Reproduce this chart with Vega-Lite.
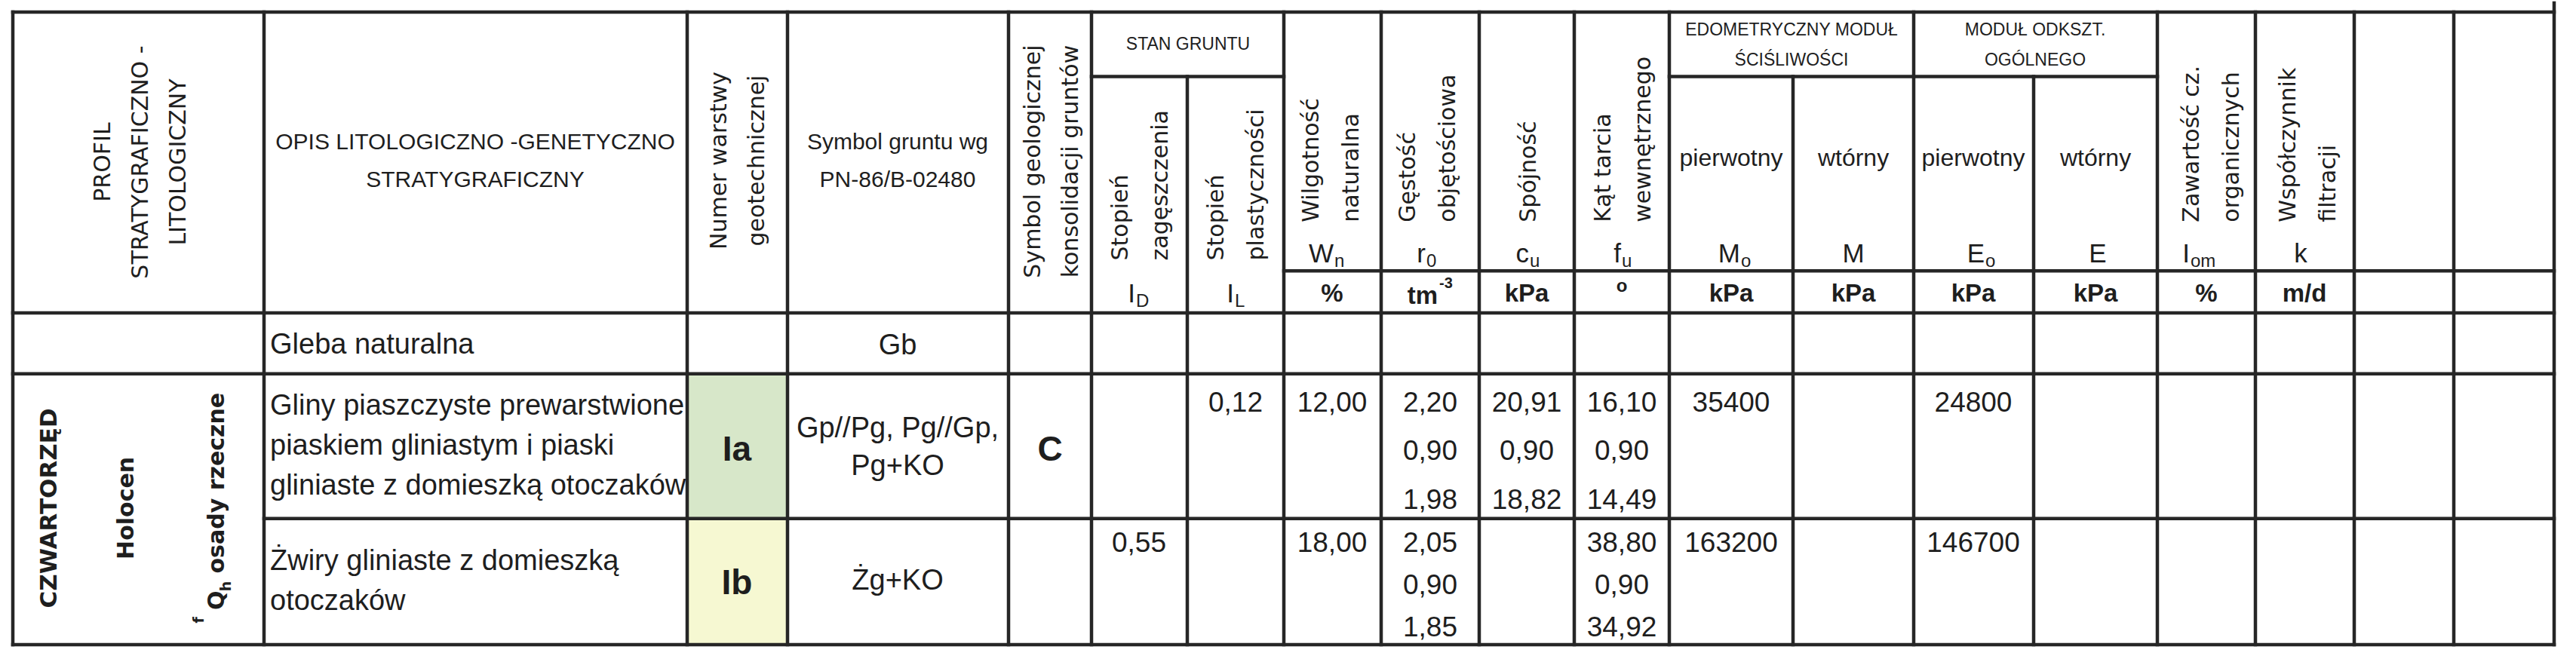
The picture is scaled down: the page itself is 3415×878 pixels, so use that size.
{
  "$schema": "https://vega.github.io/schema/vega-lite/v6.json",
  "width": 3415,
  "height": 878,
  "autosize": {"type": "fit", "contains": "padding"},
  "padding": 0,
  "background": "#ffffff",
  "config": {"view": {"stroke": null}},
  "datasets": {
    "fills": [
      {"layer": "Ia", "x": 911, "x2": 1044, "y": 494, "y2": 687},
      {"layer": "Ib", "x": 911, "x2": 1044, "y": 687, "y2": 855}
    ],
    "lines": [
      {"x": 17, "x2": 3386, "y": 12, "y2": 12},
      {"x": 1447, "x2": 1702, "y": 98, "y2": 98},
      {"x": 2213, "x2": 2860, "y": 98, "y2": 98},
      {"x": 1702, "x2": 3386, "y": 357, "y2": 357},
      {"x": 17, "x2": 3386, "y": 413, "y2": 413},
      {"x": 17, "x2": 3386, "y": 494, "y2": 494},
      {"x": 350, "x2": 3386, "y": 687, "y2": 687},
      {"x": 17, "x2": 3386, "y": 855, "y2": 855},
      {"x": 17, "x2": 17, "y": 12, "y2": 855},
      {"x": 350, "x2": 350, "y": 12, "y2": 855},
      {"x": 911, "x2": 911, "y": 12, "y2": 855},
      {"x": 1044, "x2": 1044, "y": 12, "y2": 855},
      {"x": 1337, "x2": 1337, "y": 12, "y2": 855},
      {"x": 1447, "x2": 1447, "y": 12, "y2": 855},
      {"x": 1574, "x2": 1574, "y": 98, "y2": 855},
      {"x": 1702, "x2": 1702, "y": 12, "y2": 855},
      {"x": 1831, "x2": 1831, "y": 12, "y2": 855},
      {"x": 1961, "x2": 1961, "y": 12, "y2": 855},
      {"x": 2087, "x2": 2087, "y": 12, "y2": 855},
      {"x": 2213, "x2": 2213, "y": 12, "y2": 855},
      {"x": 2377, "x2": 2377, "y": 98, "y2": 855},
      {"x": 2537, "x2": 2537, "y": 12, "y2": 855},
      {"x": 2696, "x2": 2696, "y": 98, "y2": 855},
      {"x": 2860, "x2": 2860, "y": 12, "y2": 855},
      {"x": 2990, "x2": 2990, "y": 12, "y2": 855},
      {"x": 3121, "x2": 3121, "y": 12, "y2": 855},
      {"x": 3253, "x2": 3253, "y": 12, "y2": 855},
      {"x": 3386, "x2": 3386, "y": 0, "y2": 855}
    ],
    "texts": [
      {"role": "title", "text": "OPIS LITOLOGICZNO -GENETYCZNO\nSTRATYGRAFICZNY", "x": 630, "y": 186},
      {"role": "title", "text": "Symbol gruntu wg\nPN-86/B-02480", "x": 1190, "y": 186},
      {"role": "group", "text": "STAN GRUNTU", "x": 1575, "y": 55},
      {"role": "group", "text": "EDOMETRYCZNY MODUŁ\nŚCIŚLIWOŚCI", "x": 2375, "y": 36},
      {"role": "group", "text": "MODUŁ ODKSZT.\nOGÓLNEGO", "x": 2698, "y": 36},
      {"role": "sub", "text": "pierwotny", "x": 2295, "y": 207},
      {"role": "sub", "text": "wtórny", "x": 2457, "y": 207},
      {"role": "sub", "text": "pierwotny", "x": 2616, "y": 207},
      {"role": "sub", "text": "wtórny", "x": 2778, "y": 207},
      {"role": "sym", "text": "I", "x": 1505, "y": 388},
      {"role": "symsub", "text": "D", "x": 1505, "y": 388},
      {"role": "sym", "text": "I", "x": 1636, "y": 388},
      {"role": "symsub", "text": "L", "x": 1636, "y": 388},
      {"role": "sym", "text": "W", "x": 1768, "y": 335},
      {"role": "symsub", "text": "n", "x": 1768, "y": 335},
      {"role": "sym", "text": "r", "x": 1890, "y": 335},
      {"role": "symsub", "text": "0", "x": 1890, "y": 335},
      {"role": "sym", "text": "c", "x": 2027, "y": 335},
      {"role": "symsub", "text": "u", "x": 2027, "y": 335},
      {"role": "sym", "text": "f", "x": 2149, "y": 335},
      {"role": "symsub", "text": "u", "x": 2149, "y": 335},
      {"role": "sym", "text": "M", "x": 2307, "y": 335},
      {"role": "symsub", "text": "o", "x": 2307, "y": 335},
      {"role": "symc", "text": "M", "x": 2457, "y": 335},
      {"role": "sym", "text": "E", "x": 2631, "y": 335},
      {"role": "symsub", "text": "o", "x": 2631, "y": 335},
      {"role": "symc", "text": "E", "x": 2781, "y": 335},
      {"role": "sym", "text": "I", "x": 2903, "y": 335},
      {"role": "symsub", "text": "om", "x": 2903, "y": 335},
      {"role": "symc", "text": "k", "x": 3050, "y": 335},
      {"role": "unit", "text": "%", "x": 1766, "y": 388},
      {"role": "unitr", "text": "tm", "x": 1906, "y": 391},
      {"role": "unitsup", "text": "-3", "x": 1908, "y": 374},
      {"role": "unit", "text": "kPa", "x": 2024, "y": 388},
      {"role": "unitdeg", "text": "o", "x": 2150, "y": 378},
      {"role": "unit", "text": "kPa", "x": 2295, "y": 388},
      {"role": "unit", "text": "kPa", "x": 2457, "y": 388},
      {"role": "unit", "text": "kPa", "x": 2616, "y": 388},
      {"role": "unit", "text": "kPa", "x": 2778, "y": 388},
      {"role": "unit", "text": "%", "x": 2925, "y": 388},
      {"role": "unit", "text": "m/d", "x": 3055, "y": 388},
      {"role": "rot", "text": "PROFIL\nSTRATYGRAFICZNO -\nLITOLOGICZNY", "x": 137, "y": 212},
      {"role": "rot", "text": "Numer warstwy\ngeotechnicznej", "x": 954, "y": 210},
      {"role": "rot", "text": "Symbol geologicznej\nkonsolidacji gruntów", "x": 1370, "y": 211},
      {"role": "rotl", "text": "Stopień\nzagęszczenia", "x": 1486, "y": 343},
      {"role": "rotl", "text": "Stopień\nplastyczności", "x": 1613, "y": 343},
      {"role": "rotl", "text": "Wilgotność\nnaturalna", "x": 1739, "y": 292},
      {"role": "rotl", "text": "Gęstość\nobjętościowa", "x": 1867, "y": 292},
      {"role": "rotl", "text": "Spójność", "x": 2027, "y": 292},
      {"role": "rotl", "text": "Kąt tarcia\nwewnętrznego", "x": 2126, "y": 292},
      {"role": "rotl", "text": "Zawartość cz.\norganicznych", "x": 2906, "y": 292},
      {"role": "rotl", "text": "Współczynnik\nfiltracji", "x": 3034, "y": 292},
      {"role": "body", "text": "Gleba naturalna", "x": 358, "y": 456},
      {"role": "body", "text": "Gliny piaszczyste prewarstwione\npiaskiem gliniastym i piaski\ngliniaste z domieszką otoczaków", "x": 358, "y": 537},
      {"role": "body", "text": "Żwiry gliniaste z domieszką\notoczaków", "x": 358, "y": 744},
      {"role": "bodyc", "text": "Gb", "x": 1190, "y": 457},
      {"role": "bodyc", "text": "Gp//Pg, Pg//Gp,\nPg+KO", "x": 1190, "y": 568},
      {"role": "bodyc", "text": "Żg+KO", "x": 1190, "y": 771},
      {"role": "big", "text": "Ia", "x": 977, "y": 596},
      {"role": "big", "text": "Ib", "x": 977, "y": 774},
      {"role": "big", "text": "C", "x": 1392, "y": 596},
      {"role": "czw", "text": "CZWARTORZĘD", "x": 66, "y": 673},
      {"role": "holo", "text": "Holocen", "x": 168, "y": 673},
      {"role": "osadyf", "text": "f", "x": 264, "y": 822},
      {"role": "osadyQ", "text": "Q", "x": 288, "y": 796},
      {"role": "osadyh", "text": "h", "x": 300, "y": 777},
      {"role": "osady", "text": "osady rzeczne", "x": 288, "y": 760},
      {"role": "val", "text": "0,12", "x": 1638, "y": 533},
      {"role": "val", "text": "12,00", "x": 1766, "y": 533},
      {"role": "val", "text": "2,20", "x": 1896, "y": 533},
      {"role": "val", "text": "0,90", "x": 1896, "y": 598},
      {"role": "val", "text": "1,98", "x": 1896, "y": 663},
      {"role": "val", "text": "20,91", "x": 2024, "y": 533},
      {"role": "val", "text": "0,90", "x": 2024, "y": 598},
      {"role": "val", "text": "18,82", "x": 2024, "y": 663},
      {"role": "val", "text": "16,10", "x": 2150, "y": 533},
      {"role": "val", "text": "0,90", "x": 2150, "y": 598},
      {"role": "val", "text": "14,49", "x": 2150, "y": 663},
      {"role": "val", "text": "35400", "x": 2295, "y": 533},
      {"role": "val", "text": "24800", "x": 2616, "y": 533},
      {"role": "val", "text": "0,55", "x": 1510, "y": 720},
      {"role": "val", "text": "18,00", "x": 1766, "y": 720},
      {"role": "val", "text": "2,05", "x": 1896, "y": 720},
      {"role": "val", "text": "0,90", "x": 1896, "y": 777},
      {"role": "val", "text": "1,85", "x": 1896, "y": 833},
      {"role": "val", "text": "38,80", "x": 2150, "y": 720},
      {"role": "val", "text": "0,90", "x": 2150, "y": 777},
      {"role": "val", "text": "34,92", "x": 2150, "y": 833},
      {"role": "val", "text": "163200", "x": 2295, "y": 720},
      {"role": "val", "text": "146700", "x": 2616, "y": 720}
    ]
  },
  "encoding": {
    "x": {"field": "x", "type": "quantitative", "scale": {"domain": [0, 3415], "nice": false, "zero": false}, "axis": null},
    "y": {"field": "y", "type": "quantitative", "scale": {"domain": [0, 878], "nice": false, "zero": false, "reverse": true}, "axis": null}
  },
  "layer": [
    {
      "data": {"name": "fills"},
      "mark": {"type": "rect"},
      "encoding": {
        "x2": {"field": "x2"},
        "y2": {"field": "y2"},
        "color": {"field": "layer", "type": "nominal", "scale": {"domain": ["Ia", "Ib"], "range": ["#d7e7c9", "#f6f8d2"]}, "legend": null}
      }
    },
    {
      "data": {"name": "lines"},
      "mark": {"type": "rule", "color": "#262626", "strokeWidth": 4.5, "strokeCap": "square"},
      "encoding": {"x2": {"field": "x2"}, "y2": {"field": "y2"}}
    },
    {
      "data": {"name": "texts"},
      "transform": [{"filter": {"field": "role", "oneOf": ["title", "bodyc", "sub", "symc", "val"]}}],
      "mark": {"type": "text", "font": "Liberation Sans", "align": "center", "baseline": "middle", "lineBreak": "\n", "lineHeight": 50, "color": "#1e1e1e"},
      "encoding": {
        "text": {"field": "text", "type": "nominal"},
        "size": {"condition": [
          {"test": "datum.role === 'title'", "value": 30},
          {"test": "datum.role === 'bodyc'", "value": 38},
          {"test": "datum.role === 'sub'", "value": 32},
          {"test": "datum.role === 'val'", "value": 37}
        ], "value": 35}
      }
    },
    {
      "data": {"name": "texts"},
      "transform": [{"filter": {"field": "role", "equal": "group"}}],
      "mark": {"type": "text", "font": "Liberation Sans", "fontSize": 23, "align": "center", "baseline": "middle", "lineBreak": "\n", "lineHeight": 40, "color": "#1e1e1e"},
      "encoding": {"text": {"field": "text", "type": "nominal"}}
    },
    {
      "data": {"name": "texts"},
      "transform": [{"filter": {"field": "role", "equal": "body"}}],
      "mark": {"type": "text", "font": "Liberation Sans", "fontSize": 38, "align": "left", "baseline": "middle", "lineBreak": "\n", "lineHeight": 53, "color": "#1e1e1e"},
      "encoding": {"text": {"field": "text", "type": "nominal"}}
    },
    {
      "data": {"name": "texts"},
      "transform": [{"filter": {"field": "role", "equal": "sym"}}],
      "mark": {"type": "text", "font": "Liberation Sans", "fontSize": 35, "align": "right", "baseline": "middle", "color": "#1e1e1e"},
      "encoding": {"text": {"field": "text", "type": "nominal"}}
    },
    {
      "data": {"name": "texts"},
      "transform": [{"filter": {"field": "role", "equal": "symsub"}}],
      "mark": {"type": "text", "font": "Liberation Sans", "fontSize": 24, "align": "left", "baseline": "middle", "dx": 1, "dy": 10, "color": "#1e1e1e"},
      "encoding": {"text": {"field": "text", "type": "nominal"}}
    },
    {
      "data": {"name": "texts"},
      "transform": [{"filter": {"field": "role", "oneOf": ["unit", "unitdeg", "big"]}}],
      "mark": {"type": "text", "font": "Liberation Sans", "fontWeight": "bold", "align": "center", "baseline": "middle", "color": "#1e1e1e"},
      "encoding": {
        "text": {"field": "text", "type": "nominal"},
        "size": {"condition": [
          {"test": "datum.role === 'unitdeg'", "value": 24},
          {"test": "datum.role === 'big'", "value": 46}
        ], "value": 33}
      }
    },
    {
      "data": {"name": "texts"},
      "transform": [{"filter": {"field": "role", "equal": "unitr"}}],
      "mark": {"type": "text", "font": "Liberation Sans", "fontWeight": "bold", "fontSize": 33, "align": "right", "baseline": "middle", "color": "#1e1e1e"},
      "encoding": {"text": {"field": "text", "type": "nominal"}}
    },
    {
      "data": {"name": "texts"},
      "transform": [{"filter": {"field": "role", "equal": "unitsup"}}],
      "mark": {"type": "text", "font": "Liberation Sans", "fontWeight": "bold", "fontSize": 20, "align": "left", "baseline": "middle", "color": "#1e1e1e"},
      "encoding": {"text": {"field": "text", "type": "nominal"}}
    },
    {
      "data": {"name": "texts"},
      "transform": [{"filter": {"field": "role", "equal": "rot"}}],
      "mark": {"type": "text", "font": "DejaVu Sans", "fontSize": 30, "angle": 270, "align": "center", "baseline": "middle", "lineBreak": "\n", "lineHeight": 50, "color": "#1e1e1e"},
      "encoding": {"text": {"field": "text", "type": "nominal"}}
    },
    {
      "data": {"name": "texts"},
      "transform": [{"filter": {"field": "role", "equal": "rotl"}}],
      "mark": {"type": "text", "font": "DejaVu Sans", "fontSize": 30, "angle": 270, "align": "left", "baseline": "middle", "lineBreak": "\n", "lineHeight": 53, "color": "#1e1e1e"},
      "encoding": {"text": {"field": "text", "type": "nominal"}}
    },
    {
      "data": {"name": "texts"},
      "transform": [{"filter": {"field": "role", "oneOf": ["czw", "holo", "osadyQ", "osadyf", "osadyh"]}}],
      "mark": {"type": "text", "font": "DejaVu Sans", "fontWeight": "bold", "angle": 270, "align": "center", "baseline": "middle", "color": "#1e1e1e"},
      "encoding": {
        "text": {"field": "text", "type": "nominal"},
        "size": {"condition": [
          {"test": "datum.role === 'czw'", "value": 31},
          {"test": "datum.role === 'holo'", "value": 30},
          {"test": "datum.role === 'osadyQ'", "value": 30}
        ], "value": 19}
      }
    },
    {
      "data": {"name": "texts"},
      "transform": [{"filter": {"field": "role", "equal": "osady"}}],
      "mark": {"type": "text", "font": "DejaVu Sans", "fontWeight": "bold", "fontSize": 30, "angle": 270, "align": "left", "baseline": "middle", "color": "#1e1e1e"},
      "encoding": {"text": {"field": "text", "type": "nominal"}}
    }
  ]
}
